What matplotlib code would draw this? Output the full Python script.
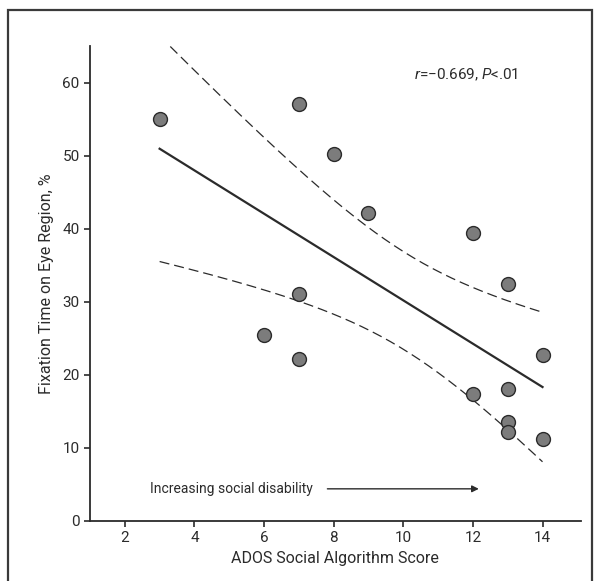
import matplotlib
matplotlib.use("Agg")
import matplotlib.pyplot as plt
from matplotlib.patches import Rectangle
import numpy as np

# data
ados = [3, 7, 8, 9, 12, 13, 7, 6, 7, 14, 12, 13, 13, 13, 14]
fixation = [55, 57, 50.2, 42.2, 39.4, 32.4, 31.1, 25.5, 22.1, 22.7, 17.4, 18, 13.5, 12.2, 11.2]
xticks = [2, 4, 6, 8, 10, 12, 14]
yticks = [0, 10, 20, 30, 40, 50, 60]

plt.rcParams['font.family'] = ['Roboto', 'DejaVu Sans']
plt.rcParams['mathtext.fontset'] = 'custom'
plt.rcParams['mathtext.rm'] = 'Roboto'
plt.rcParams['mathtext.it'] = 'Roboto:italic'
ink = '#2b2b2b'

x = np.array(ados, dtype=float)
y = np.array(fixation, dtype=float)
n = len(x)
slope, icpt = np.polyfit(x, y, 1)
resid = y - (slope * x + icpt)
s = np.sqrt(np.sum(resid ** 2) / (n - 2))
sxx = np.sum((x - x.mean()) ** 2)
t13 = 2.160  # two-sided 95%, df = 13
xs = np.linspace(x.min(), x.max(), 200)
fit = slope * xs + icpt
half = t13 * s * np.sqrt(1 / n + (xs - x.mean()) ** 2 / sxx)

fig = plt.figure(figsize=(6, 5.81), dpi=100)
ax = fig.add_axes([0.15, 0.1033, 0.818, 0.8175])

ax.plot(xs, fit, color=ink, lw=1.6, zorder=2)
ax.plot(xs, fit + half, color=ink, lw=0.9, ls=(0, (8, 4)), zorder=2)
ax.plot(xs, fit - half, color=ink, lw=0.9, ls=(0, (8, 4)), zorder=2)
ax.scatter(x, y, s=100, facecolor='#7c7c7c', edgecolor=ink, lw=1.0, zorder=3)

ax.set_xlim(1, 15.1)
ax.set_ylim(0, 65)
ax.set_xticks(xticks)
ax.set_yticks(yticks)
for side in ['top', 'right']:
    ax.spines[side].set_visible(False)
for side in ['left', 'bottom']:
    ax.spines[side].set_color(ink)
    ax.spines[side].set_linewidth(1.3)
ax.tick_params(colors=ink, labelsize=11, length=4, width=1.2, direction='out')
ax.set_xlabel('ADOS Social Algorithm Score', fontsize=11.5, color=ink, labelpad=4)
ax.set_ylabel('Fixation Time on Eye Region, %', fontsize=11.5, color=ink, labelpad=6)

ax.text(10.3, 61.1, '$\\it{r}$=\u22120.669, $\\it{P}$<.01', fontsize=11, color=ink, va='center')
ax.text(2.72, 4.4, 'Increasing social disability', fontsize=10, color=ink, va='center')
ax.annotate('', xy=(12.25, 4.4), xytext=(7.74, 4.4),
            arrowprops=dict(arrowstyle='-|>', color=ink, lw=1.0, mutation_scale=10))

fig.patches.append(Rectangle((8 / 600, -0.1), 584 / 600, 1.1 - 10 / 581,
                             transform=fig.transFigure, fill=False,
                             edgecolor='#3a3a3a', lw=1.6))

fig.savefig('out.png', dpi=100)
